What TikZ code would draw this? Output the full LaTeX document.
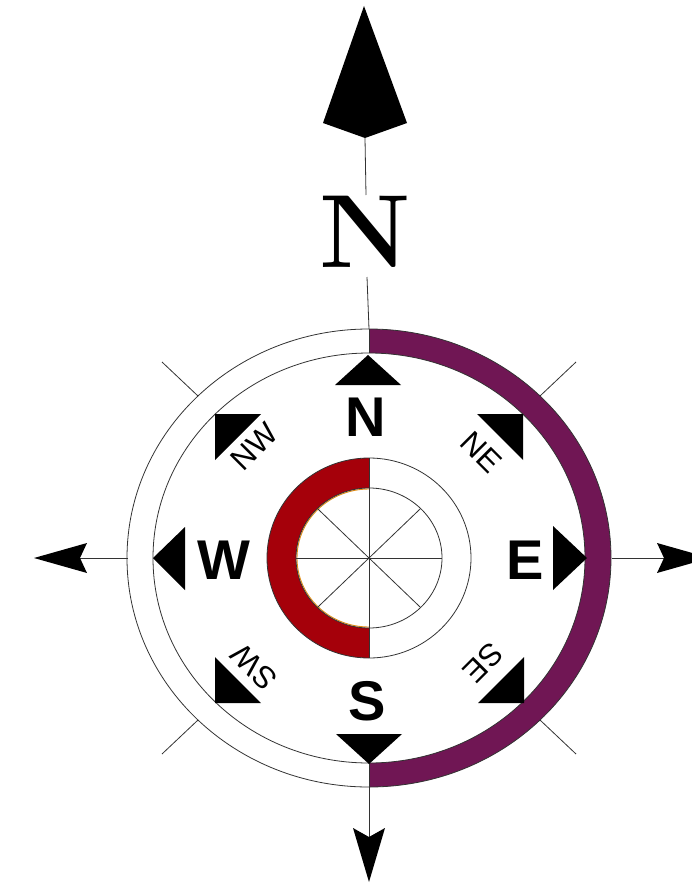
\documentclass[tikz,border=0pt]{standalone}
\usepackage{fontspec}
\newfontfamily\sansf{Liberation Sans}
\usetikzlibrary{calc}
\definecolor{ringpurple}{RGB}{112,22,84}
\definecolor{ringred}{RGB}{165,0,10}
\definecolor{edgeorange}{RGB}{225,140,20}
\tikzset{
  thinline/.style={draw=black!80, line width=0.8pt},
  blacktri/.style={fill=black},
  mainletter/.style={inner sep=0pt, font=\sansf\bfseries\fontsize{56}{56}\selectfont},
  diaglabel/.style={inner sep=0pt, font=\sansf\fontsize{31}{31}\selectfont},
}
\begin{document}
\begin{tikzpicture}[x=1pt,y=1pt]
\useasboundingbox (0,0) rectangle (692,-891);
\begin{scope}[shift={(369,-558)}]
\coordinate (C) at (0,0);
% purple half ring
\fill[ringpurple] (0,229) arc[start angle=90,end angle=-90,x radius=242,y radius=229]
  -- (0,-205) arc[start angle=-90,end angle=90,x radius=216,y radius=205] -- cycle;
% red half ring
\fill[ringred] (0,100) arc[start angle=90,end angle=270,x radius=102,y radius=100]
  -- (0,-70) arc[start angle=270,end angle=90,x radius=73,y radius=70] -- cycle;
\draw[edgeorange, line width=0.9pt] (0,69) arc[start angle=90,end angle=270,x radius=72,y radius=69];
% ellipses
\draw[thinline] (C) ellipse[x radius=242, y radius=229];
\draw[thinline] (C) ellipse[x radius=216, y radius=205];
\draw[thinline] (C) ellipse[x radius=102, y radius=100];
\draw[thinline] (C) ellipse[x radius=73, y radius=70];
% spokes
\coordinate (s1) at (0,100); \coordinate (s2) at (0,-100);
\coordinate (s3) at (-73,0); \coordinate (s4) at (73,0);
\coordinate (s5) at (-51.6,49.5); \coordinate (s6) at (51.6,-49.5);
\coordinate (s7) at (51.6,49.5); \coordinate (s8) at (-51.6,-49.5);
\draw[thinline] (s1) -- (s2);
\draw[thinline] (s3) -- (s4);
\draw[thinline] (s5) -- (s6);
\draw[thinline] (s7) -- (s8);
% ring divider lines
\draw[thinline] (0,205) -- (0,229);
\draw[thinline] (0,-205) -- (0,-229);
% diagonal ticks
\coordinate (t1a) at (-171,162); \coordinate (t1b) at (-207,196);
\coordinate (t2a) at (171,162); \coordinate (t2b) at (207,196);
\coordinate (t3a) at (-171,-162); \coordinate (t3b) at (-207,-196);
\coordinate (t4a) at (171,-162); \coordinate (t4b) at (207,-196);
\draw[thinline] (t1a) -- (t1b);
\draw[thinline] (t2a) -- (t2b);
\draw[thinline] (t3a) -- (t3b);
\draw[thinline] (t4a) -- (t4b);
% west arrow
\coordinate (wl) at (-241,0); \coordinate (wn) at (-289,0);
\draw[thinline] (wl) -- (wn);
\fill (wn) -- (-282,15) -- (-335,0) -- (-282,-15) -- cycle;
% east arrow
\coordinate (el) at (243,0); \coordinate (en) at (295,0);
\draw[thinline] (el) -- (en);
\fill (en) -- (288,15) -- (341,0) -- (288,-15) -- cycle;
% south arrow
\coordinate (sl) at (0,-229); \coordinate (sn) at (0,-279);
\draw[thinline] (sl) -- (sn);
\fill (sn) -- (-16,-270) -- (0,-324) -- (16,-270) -- cycle;
% north arrow
\coordinate (nn) at (-4,420); \coordinate (nl) at (-3,363);
\coordinate (nl2) at (-2,281); \coordinate (nc) at (0,229);
\draw[thinline] (nn) -- (nl);
\draw[thinline] (nl2) -- (nc);
\fill (nn) -- (-46,435) -- (-5,552) -- (38,435) -- cycle;
\node[anchor=base, inner sep=0pt, font=\bfseries\fontsize{104}{104}\selectfont] (bigN) at (-4,291) {N};
% cardinal triangles
\fill (-1,203) -- (-34,173) -- (32,173) -- cycle;
\fill (0,-206) -- (-33,-176) -- (33,-176) -- cycle;
\fill (-216,0) -- (-184,31) -- (-184,-32) -- cycle;
\fill (218,0) -- (184,32) -- (184,-32) -- cycle;
% diagonal triangles
\fill (-154,144) -- (-108,144) -- (-154,98) -- cycle;
\fill (154,144) -- (108,144) -- (154,98) -- cycle;
\fill (-154,-145) -- (-108,-145) -- (-154,-99) -- cycle;
\fill (155,-145) -- (109,-145) -- (155,-99) -- cycle;
% letters
\node[mainletter] (lN) at (-3,141) {N};
\node[mainletter] (lS) at (-2,-143) {S};
\node[mainletter] (lW) at (-145,-2) {W};
\node[mainletter] (lE) at (156,-2) {E};
\node[diaglabel, rotate=45] (lNW) at (-115,111) {NW};
\node[diaglabel, rotate=-45] (lNE) at (112,106) {NE};
\node[diaglabel, rotate=135] (lSW) at (-115,-109) {SW};
\node[diaglabel, rotate=225] (lSE) at (114,-105) {SE};
\end{scope}
\end{tikzpicture}
\end{document}
